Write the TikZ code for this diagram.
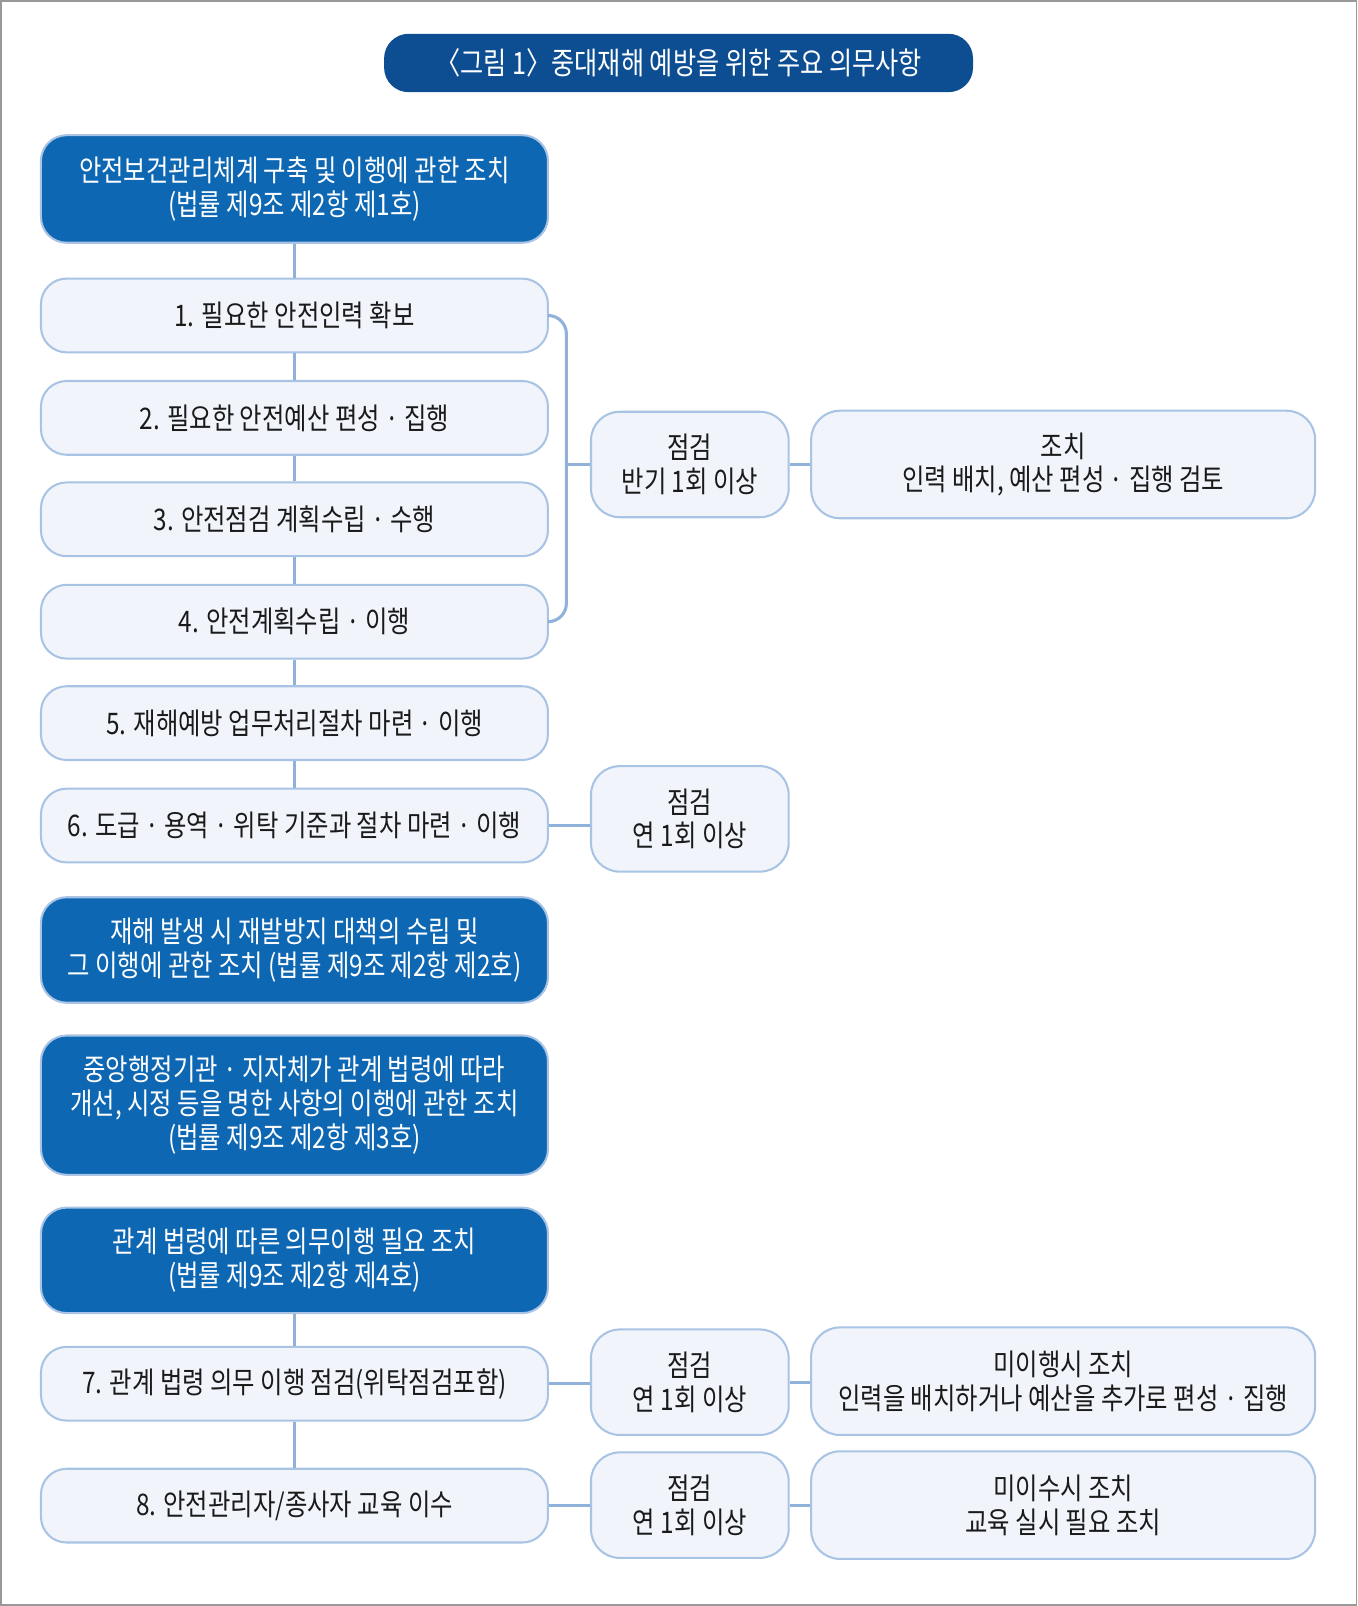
\documentclass[tikz,border=0pt]{standalone}
\usepackage{fontspec}
\newfontfamily\kr[FakeStretch=0.82]{Noto Sans CJK KR}
\definecolor{lightfill}{HTML}{F1F5FB}
\definecolor{boxline}{HTML}{A8C3E3}
\definecolor{connline}{HTML}{8FB1DA}
\definecolor{bluefill}{HTML}{0E67B3}
\definecolor{titlefill}{HTML}{0D4E92}
\definecolor{framecol}{HTML}{999999}
\definecolor{txt}{HTML}{1A1A1A}
\begin{document}
\begin{tikzpicture}[x=1pt,y=-1pt,
  every node/.style={font=\kr\fontsize{29}{33}\selectfont, align=center, inner sep=0pt},
  lbox/.style={draw=boxline, line width=2pt, fill=lightfill, rounded corners=25pt, text=txt},
  bbox/.style={draw=boxline, line width=2pt, fill=bluefill, rounded corners=25pt, text=white},
  leftw/.style={minimum width=495pt},
  chkw/.style={minimum width=193pt, minimum height=103pt, rounded corners=28pt},
  actw/.style={minimum width=492pt, minimum height=105pt, rounded corners=28pt},
  conn/.style={draw=connline, line width=3pt}]
\useasboundingbox (0,0) rectangle (1325,1568);
\draw[framecol, line width=1.5pt] (0.75,0.75) rectangle (1324.25,1567.25);

% title
\node[fill=titlefill, rounded corners=24pt, minimum width=575pt, minimum height=57pt, text=white, font=\kr\fontsize{30}{34}\selectfont] (title) at (662.5,61.5) {〈그림 1〉중대재해 예방을 위한 주요 의무사항};

% left column
\node[bbox, leftw, minimum height=105pt] (b0) at (287.5,184.5) {안전보건관리체계 구축 및 이행에 관한 조치\\(법률 제9조 제2항 제1호)};
\node[lbox, leftw, minimum height=72pt] (b1) at (287.5,308) {1. 필요한 안전인력 확보};
\node[lbox, leftw, minimum height=72pt] (b2) at (287.5,408) {2. 필요한 안전예산 편성 · 집행};
\node[lbox, leftw, minimum height=72pt] (b3) at (287.5,507) {3. 안전점검 계획수립 · 수행};
\node[lbox, leftw, minimum height=72pt] (b4) at (287.5,607) {4. 안전계획수립 · 이행};
\node[lbox, leftw, minimum height=72pt] (b5) at (287.5,706) {5. 재해예방 업무처리절차 마련 · 이행};
\node[lbox, leftw, minimum height=72pt] (b6) at (287.5,806) {6. 도급 · 용역 · 위탁 기준과 절차 마련 · 이행};
\node[bbox, leftw, minimum height=103pt] (bl2) at (287.5,927.5) {재해 발생 시 재발방지 대책의 수립 및\\그 이행에 관한 조치 (법률 제9조 제2항 제2호)};
\node[bbox, leftw, minimum height=136pt] (bl3) at (287.5,1079) {중앙행정기관 · 지자체가 관계 법령에 따라\\개선, 시정 등을 명한 사항의 이행에 관한 조치\\(법률 제9조 제2항 제3호)};
\node[bbox, leftw, minimum height=103pt] (bl4) at (287.5,1230.5) {관계 법령에 따른 의무이행 필요 조치\\(법률 제9조 제2항 제4호)};
\node[lbox, leftw, minimum height=72pt] (b7) at (287.5,1351) {7. 관계 법령 의무 이행 점검(위탁점검포함)};
\node[lbox, leftw, minimum height=72pt] (b8) at (287.5,1470) {8. 안전관리자/종사자 교육 이수};

% check boxes
\node[lbox, chkw] (chkA) at (673.5,453.5) {점검\\반기 1회 이상};
\node[lbox, chkw] (chkB) at (673.5,799.5) {점검\\연 1회 이상};
\node[lbox, chkw] (chkC) at (673.5,1349.5) {점검\\연 1회 이상};
\node[lbox, chkw] (chkD) at (673.5,1469.5) {점검\\연 1회 이상};

% action boxes
\node[lbox, actw] (actA) at (1038,453.5) {조치\\인력 배치, 예산 편성 · 집행 검토};
\node[lbox, actw] (actC) at (1038,1348.5) {미이행시 조치\\인력을 배치하거나 예산을 추가로 편성 · 집행};
\node[lbox, actw] (actD) at (1038,1469.5) {미이수시 조치\\교육 실시 필요 조치};

% connectors
\coordinate (brk) at (553,453.5);
\draw[conn] (b0.south) -- (b1.north);
\draw[conn] (b1.south) -- (b2.north);
\draw[conn] (b2.south) -- (b3.north);
\draw[conn] (b3.south) -- (b4.north);
\draw[conn] (b4.south) -- (b5.north);
\draw[conn] (b5.south) -- (b6.north);
\draw[conn] (bl4.south) -- (b7.north);
\draw[conn] (b7.south) -- (b8.north);
\draw[conn, rounded corners=18pt] (b1.east) -| (brk) |- (b4.east);
\draw[conn] (brk) -- (chkA.west);
\draw[conn] (chkA.east) -- (actA.west);
\draw[conn] (b6.east) -- (b6.east -| chkB.west);
\draw[conn] (b7.east) -- (b7.east -| chkC.west);
\draw[conn] (chkC.east) -- (chkC.east -| actC.west);
\draw[conn] (b8.east) -- (b8.east -| chkD.west);
\draw[conn] (chkD.east) -- (actD.west);
\end{tikzpicture}
\end{document}
